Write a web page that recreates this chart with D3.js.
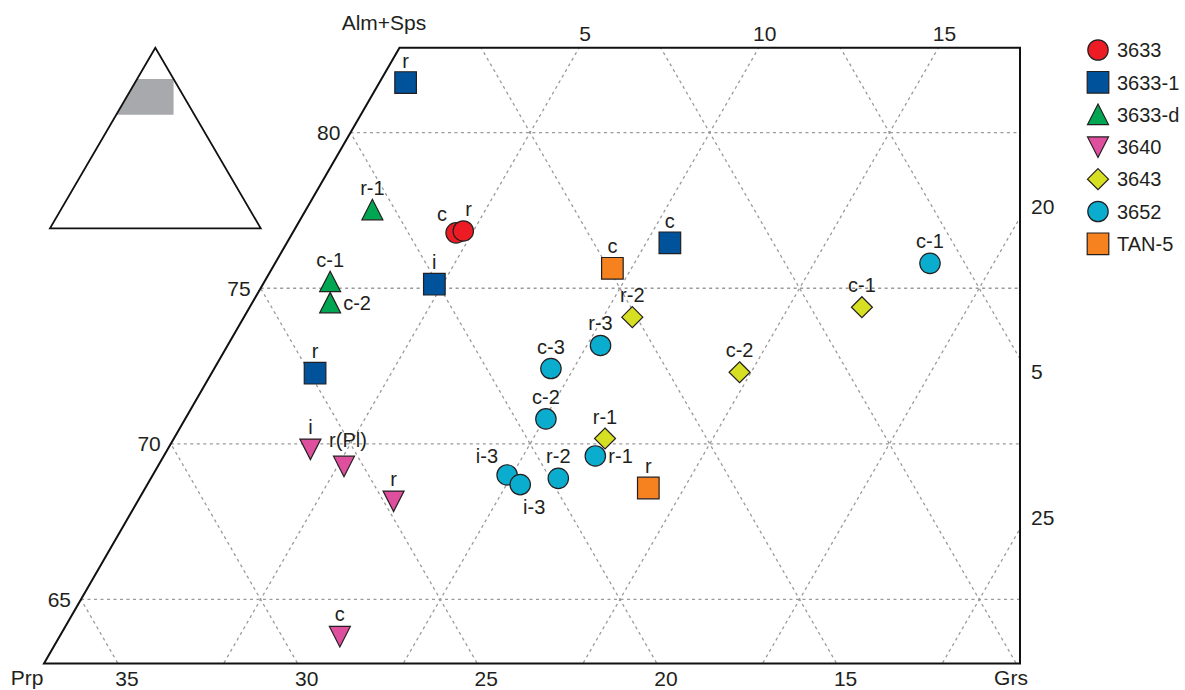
<!DOCTYPE html>
<html>
<head>
<meta charset="utf-8">
<script src="https://d3js.org/d3.v7.min.js"></script>
<style>
  body { margin: 0; background: #fff; }
  text { font-family: "Liberation Sans", Arial, sans-serif; fill: #231f20; }
</style>
</head>
<body>
<div id="chart"></div>
<script>
// garnet compositions: [label, Alm+Sps, Grs] (Prp = 100 - both)
var sampleNames = ["3633", "3633-1", "3633-d", "3640", "3643", "3652", "TAN-5"];
var data3633 = [["c", 76.78, 4.55], ["r", 76.84, 4.72]];
var data3633_1 = [["r", 81.61, 0.73], ["i", 75.13, 4.77], ["r", 72.27, 2.88], ["c", 76.46, 10.66]];
var data3633_d = [["r-1", 77.52, 1.85], ["c-1", 75.21, 1.83], ["c-2", 74.53, 2.17]];
var data3640 = [["i", 69.83, 3.97], ["r(Pl)", 69.28, 5.18], ["r", 68.16, 7.12], ["c", 63.81, 7.80]];
var data3643 = [["r-2", 74.07, 10.81], ["c-2", 72.30, 14.68], ["r-1", 70.17, 12.00], ["c-1", 74.39, 17.04]];
var data3652 = [["c-1", 75.80, 18.23], ["r-3", 73.16, 10.38], ["c-3", 72.42, 9.37], ["c-2", 70.80, 10.04],
                ["r-1", 69.61, 12.01], ["r-2", 68.89, 11.34], ["i-3", 69.00, 9.86], ["i-3", 68.69, 10.38]];
var dataTAN5 = [["c", 75.64, 9.47], ["r", 68.58, 14.00]];

// grid and tick values
var almTicks = [80, 75, 70, 65];
var grsTopTicks = [5, 10, 15];
var prpBottomTicks = [35, 30, 25, 20, 15];
var grsLines = [5, 10, 15, 20, 25];
var prpLines = [5, 10, 15, 20, 25, 30, 35];
var rightTicks = [["grs", 20], ["prp", 5], ["grs", 25]];

// which point labels are not simply above the marker
var labelSide = { "3633-0": "left", "3633-1": "right", "3633-d-2": "side", "3640-1": "aboveR",
                  "3652-4": "side", "3652-6": "left", "3652-7": "below" };

var series = [
  { name: sampleNames[0], values: data3633, shape: "circle", color: "#ed1c24" },
  { name: sampleNames[1], values: data3633_1, shape: "square", color: "#00529b" },
  { name: sampleNames[2], values: data3633_d, shape: "up", color: "#00a651" },
  { name: sampleNames[3], values: data3640, shape: "down", color: "#de509e" },
  { name: sampleNames[4], values: data3643, shape: "diamond", color: "#d7df23" },
  { name: sampleNames[5], values: data3652, shape: "circle", color: "#0badcf" },
  { name: sampleNames[6], values: dataTAN5, shape: "square", color: "#f5821f" }
];

var W = 1185, H = 690;
var aTop = 82.73, aBot = 62.94;

var svg = d3.select("#chart").append("svg").attr("width", W).attr("height", H);

// ternary: horizontal coordinate X = Grs + (Alm+Sps)/2, vertical = Alm+Sps
var y = d3.scaleLinear().domain([aBot, aTop]).range([663.5, 47.7]);
var x = d3.scaleLinear().domain([aTop / 2, 100 - aTop / 2]).range([399.5, 1020]);
function px(a, g) { return x(g + a / 2); }

var frame = [[px(aTop, 0), y(aTop)], [x.range()[1], y(aTop)], [x.range()[1], y(aBot)], [px(aBot, 0), y(aBot)]];

svg.append("clipPath").attr("id", "clip")
  .append("polygon").attr("points", frame.map(function (d) { return d.join(","); }).join(" "));

var grid = svg.append("g").attr("clip-path", "url(#clip)")
  .attr("stroke", "#9a9a9a").attr("stroke-width", 1.3).attr("stroke-dasharray", "3,3.5").attr("fill", "none");

almTicks.forEach(function (a) {
  grid.append("line").attr("x1", px(a, 0)).attr("x2", x.range()[1]).attr("y1", y(a)).attr("y2", y(a));
});
grsLines.forEach(function (g) {
  grid.append("line").attr("x1", px(55, g)).attr("y1", y(55)).attr("x2", px(90, g)).attr("y2", y(90));
});
prpLines.forEach(function (p) {
  grid.append("line").attr("x1", px(55, 100 - p - 55)).attr("y1", y(55))
    .attr("x2", px(90, 100 - p - 90)).attr("y2", y(90));
});

// frame
svg.append("polygon").attr("points", frame.map(function (d) { return d.join(","); }).join(" "))
  .attr("fill", "none").attr("stroke", "#111").attr("stroke-width", 2);

// axis labels
var axisFont = "21px";
almTicks.forEach(function (a) {
  svg.append("text").attr("x", px(a, 0) - 10).attr("y", y(a)).attr("dy", "0.36em")
    .attr("text-anchor", "end").style("font-size", axisFont).text(a);
});
grsTopTicks.forEach(function (g) {
  svg.append("text").attr("x", px(aTop, g) + 6).attr("y", y(aTop) - 7)
    .attr("text-anchor", "middle").style("font-size", axisFont).text(g);
});
prpBottomTicks.forEach(function (p) {
  svg.append("text").attr("x", px(aBot, 100 - p - aBot) + 9).attr("y", 686)
    .attr("text-anchor", "middle").style("font-size", axisFont).text(p);
});
var xR = x.range()[1];
rightTicks.forEach(function (t) {
  var X = x.invert(xR), a, off;
  if (t[0] === "grs") { a = 2 * (X - t[1]); off = -11; }
  else { a = 2 * (100 - t[1] - X); off = 13; }
  svg.append("text").attr("x", xR + 11).attr("y", y(a) + off).attr("dy", "0.36em")
    .style("font-size", axisFont).text(t[1]);
});
svg.append("text").attr("x", 384).attr("y", 30).attr("text-anchor", "middle").style("font-size", axisFont).text("Alm+Sps");
svg.append("text").attr("x", 27).attr("y", 685).attr("text-anchor", "middle").style("font-size", axisFont).text("Prp");
svg.append("text").attr("x", 1011).attr("y", 685).attr("text-anchor", "middle").style("font-size", axisFont).text("Grs");

// marker shapes
function shapePath(shape) {
  var p = d3.path();
  if (shape === "circle") { p.arc(0, 0, 10.2, 0, 2 * Math.PI); }
  else if (shape === "square") { p.rect(-10.8, -10.8, 21.6, 21.6); }
  else if (shape === "up") { p.moveTo(0, -10.5); p.lineTo(10.5, 10); p.lineTo(-10.5, 10); p.closePath(); }
  else if (shape === "down") { p.moveTo(-10.5, -10); p.lineTo(10.5, -10); p.lineTo(0, 10.5); p.closePath(); }
  else if (shape === "diamond") { p.moveTo(0, -10.5); p.lineTo(10.5, 0); p.lineTo(0, 10.5); p.lineTo(-10.5, 0); p.closePath(); }
  return p.toString();
}

var pts = svg.append("g");
series.forEach(function (s) {
  s.values.forEach(function (d, i) {
    var cx = px(d[1], d[2]), cy = y(d[1]);
    pts.append("path").attr("d", shapePath(s.shape))
      .attr("transform", "translate(" + cx + "," + cy + ")")
      .attr("fill", s.color).attr("stroke", "#231f20").attr("stroke-width", 1.2);
    var side = labelSide[s.name + "-" + i] || "above";
    var t = pts.append("text").style("font-size", "20px").text(d[0]);
    if (side === "above") t.attr("x", cx).attr("y", cy - 15).attr("text-anchor", "middle");
    else if (side === "aboveR") t.attr("x", cx + 4).attr("y", cy - 19).attr("text-anchor", "middle");
    else if (side === "left") t.attr("x", cx - 9).attr("y", cy - 12).attr("text-anchor", "end");
    else if (side === "right") t.attr("x", cx + 2).attr("y", cy - 15);
    else if (side === "side") t.attr("x", cx + 13).attr("y", cy).attr("dy", "0.36em");
    else if (side === "below") t.attr("x", cx + 14).attr("y", cy + 29).attr("text-anchor", "middle");
  });
});

// inset triangle with the plotted window shaded
var ix = d3.scaleLinear().domain([0, 100]).range([50, 260.7]);
var iy = d3.scaleLinear().domain([0, 100]).range([228.3, 47.7]);
function ipt(a, g) { return [ix(g + a / 2), iy(a)]; }
var win = [ipt(aTop, 0), [ix(100 - aTop / 2), iy(aTop)], [ix(100 - aTop / 2), iy(aBot)], ipt(aBot, 0)];
svg.append("polygon").attr("points", win.map(function (d) { return d.join(","); }).join(" ")).attr("fill", "#a7a9ac");
var tri = [ipt(100, 0), ipt(0, 0), ipt(0, 100)];
svg.append("polygon").attr("points", tri.map(function (d) { return d.join(","); }).join(" "))
  .attr("fill", "none").attr("stroke", "#111").attr("stroke-width", 1.8);

// legend
var legend = svg.append("g").attr("transform", "translate(1098,50)");
series.forEach(function (s, i) {
  var row = legend.append("g").attr("transform", "translate(0," + (i * 32.3) + ")");
  row.append("path").attr("d", shapePath(s.shape)).attr("fill", s.color)
    .attr("stroke", "#231f20").attr("stroke-width", 1.2);
  row.append("text").attr("x", 19).attr("dy", "0.36em").style("font-size", "20px").text(s.name);
});
</script>
</body>
</html>
